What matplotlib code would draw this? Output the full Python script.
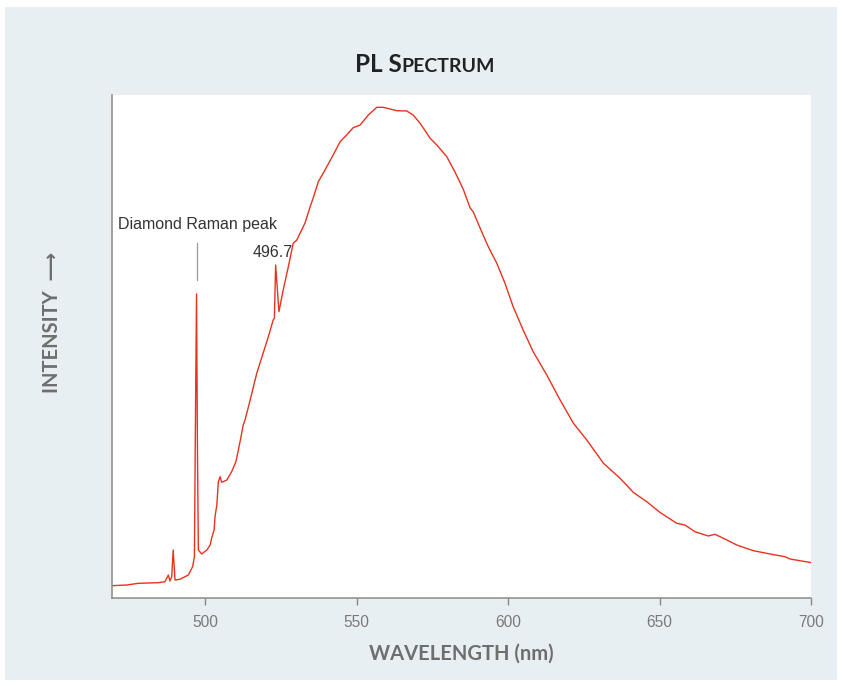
import numpy as np
import matplotlib
matplotlib.use("Agg")
import matplotlib.pyplot as plt
from matplotlib.offsetbox import TextArea, HPacker, AnchoredOffsetbox

# PL spectrum (wavelength in nm, intensity in arbitrary units)
wavelength = [469.2, 474.2, 478.0, 484.6, 486.8, 487.9, 488.4, 489.0, 489.5, 490.1,
              491.7, 494.5, 495.9, 496.5, 496.9, 497.2, 497.5, 497.8, 498.9, 500.6,
              501.7, 502.2, 503.0, 503.3, 503.9, 504.4, 505.0, 505.5, 507.2, 508.8,
              510.2, 511.0, 511.8, 512.6, 513.2, 514.9, 517.1, 519.2, 520.9, 522.5,
              522.9, 523.3, 524.4, 525.8, 527.5, 529.1, 530.3, 531.4, 533.0, 534.7,
              535.7, 537.4, 539.6, 542.3, 544.6, 546.2, 548.9, 551.2, 553.9, 556.7,
              558.8, 561.1, 563.3, 566.6, 568.7, 571.0, 574.3, 576.5, 579.8, 582.5,
              585.2, 587.5, 588.5, 591.3, 593.5, 596.3, 599.0, 601.7, 605.0, 608.3,
              612.8, 617.2, 621.6, 626.0, 631.5, 637.0, 641.4, 645.8, 650.2, 655.7,
              658.4, 661.7, 666.1, 668.3, 671.1, 675.5, 681.0, 686.5, 691.4, 693.1,
              696.9, 700.2]
intensity = [12.3, 13.0, 14.7, 15.3, 16.3, 23.0, 17.0, 21.3, 48.0, 18.0,
             18.7, 23.0, 31.3, 41.3, 200.0, 304.0, 150.0, 48.0, 44.0, 48.0,
             53.0, 60.0, 68.0, 81.3, 93.0, 116.3, 121.3, 115.7, 118.0, 126.3,
             136.3, 148.0, 160.0, 173.0, 178.0, 198.0, 225.0, 245.0, 261.3, 278.0,
             280.0, 333.0, 286.3, 308.0, 331.3, 354.7, 358.0, 365.0, 375.0, 391.3,
             400.0, 416.3, 428.0, 443.0, 456.3, 461.3, 470.3, 473.0, 483.0, 490.7,
             490.7, 489.0, 487.3, 487.0, 483.0, 474.7, 459.7, 453.0, 441.3, 426.0,
             409.0, 390.0, 386.3, 366.3, 351.3, 334.7, 314.7, 291.3, 268.0, 246.3,
             223.0, 198.0, 174.7, 158.0, 134.7, 119.7, 105.5, 96.3, 85.5, 74.7,
             73.0, 66.3, 62.0, 63.7, 59.7, 53.0, 47.3, 44.0, 41.3, 39.0,
             37.0, 35.3]

xticks = [500, 550, 600, 650, 700]
raman_peak = (497.2, 304.0)
raman_label = "Diamond Raman peak"
peak_label = "496.7"

panel = "#e7eff3"
grey = "#7a7a7a"

fig = plt.figure(figsize=(8.42, 6.86), dpi=100)
fig.patch.set_facecolor("white")
fig.patches.append(plt.Rectangle((5 / 842, 1 - 680 / 686), 832 / 842, 673 / 686,
                                 transform=fig.transFigure, facecolor=panel,
                                 edgecolor="none", zorder=-5))

ax = fig.add_axes([112 / 842, 1 - 598 / 686, 699 / 842, 503 / 686])
ax.set_zorder(2)
ax.set_facecolor("white")
ax.plot(wavelength, intensity, color="#e8321f", lw=1.0)
ax.set_xlim(469.3, 700)
ax.set_ylim(0, 503)

for s in ["top", "right"]:
    ax.spines[s].set_visible(False)
for s in ["left", "bottom"]:
    ax.spines[s].set_color("#8a8a8a")
    ax.spines[s].set_linewidth(1.1)
ax.set_yticks([])
ax.set_xticks(xticks)
ax.tick_params(axis="x", direction="out", length=5, width=1, color="#8a8a8a",
               labelcolor=grey, labelsize=11.2, pad=7)
for lab in ax.get_xticklabels():
    lab.set_family("Liberation Sans")

# annotations
ax.text(471.3, 374, raman_label, ha="left", va="center", fontsize=11.5,
        family="Liberation Sans", color="#333333")
ax.plot([raman_peak[0], raman_peak[0]], [318, 355], color="#9a9a9a", lw=0.9)
ax.text(522.4, 346, peak_label, ha="center", va="center", fontsize=11.5,
        family="Liberation Sans", color="#333333")

# axis labels
ax.set_xlabel("WAVELENGTH (nm)", fontsize=14.5, fontweight="bold", color="#6e6e6e",
              family="Lato", labelpad=10)
fig.text(52 / 842, 1 - 322 / 686, "INTENSITY  \u27f6", rotation=90, ha="center",
         va="center", fontsize=14.5, fontweight="bold", color="#6e6e6e",
         family=["Lato", "DejaVu Sans"])

# small-caps title
big = dict(fontsize=17.5, fontweight="bold", color="#222222", family="Lato")
small = dict(fontsize=14, fontweight="bold", color="#222222", family="Lato")
parts = [TextArea("PL S", textprops=big), TextArea("PECTRUM", textprops=small)]
box = HPacker(children=parts, align="baseline", pad=0, sep=0)
title = AnchoredOffsetbox(loc="center", child=box, frameon=False,
                          bbox_to_anchor=(0.505, 1 - 64 / 686),
                          bbox_transform=fig.transFigure, borderpad=0, pad=0)
fig.add_artist(title)

fig.savefig("out.png", dpi=100, facecolor=fig.get_facecolor())
